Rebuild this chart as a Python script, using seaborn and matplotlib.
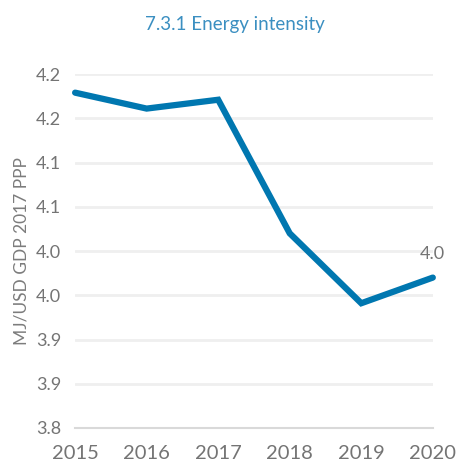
import matplotlib
matplotlib.use("Agg")
import matplotlib.pyplot as plt
import seaborn as sns
import pandas as pd

years = [2015, 2016, 2017, 2018, 2019, 2020]
values = [4.179, 4.161, 4.171, 4.020, 3.941, 3.970]
y_ticks = [3.80, 3.85, 3.90, 3.95, 4.00, 4.05, 4.10, 4.15, 4.20]
y_tick_labels = ["3.8", "3.9", "3.9", "4.0", "4.0", "4.1", "4.1", "4.2", "4.2"]
title = "7.3.1 Energy intensity"
y_label = "MJ/USD GDP 2017 PPP"
end_label = "4.0"

sns.set_style("white")
plt.rcParams['font.family'] = ['Lato', 'DejaVu Sans']

df = pd.DataFrame({"year": years, "value": values})

fig = plt.figure(figsize=(4.58, 4.63), dpi=100)
ax = fig.add_axes([0.164, 0.0756, 0.781, 0.7644])

ax.set_ylim(3.8, 4.2)
ax.set_xlim(2015, 2020)
ax.set_yticks(y_ticks)
ax.set_yticklabels(y_tick_labels)
ax.set_xticks(years)
ax.set_xticklabels([str(y) for y in years])
ax.grid(axis="y", color="#efefef", linewidth=2)
ax.set_axisbelow(True)

sns.lineplot(data=df, x="year", y="value", ax=ax, color="#0077b0",
             linewidth=4.5, clip_on=False, solid_joinstyle="miter")

for s in ["top", "right", "left"]:
    ax.spines[s].set_visible(False)
ax.spines["bottom"].set_color("#d9d9d9")
ax.spines["bottom"].set_linewidth(1.5)

ax.tick_params(axis="y", length=0, labelsize=13, labelcolor="#747474", pad=10)
ax.tick_params(axis="x", length=7, width=1.2, color="#d9d9d9", labelsize=14.5,
               labelcolor="#747474", pad=5)

ax.set_xlabel("")
ax.set_ylabel(y_label, fontsize=12.5, color="#7c7c7c", labelpad=5)

ax.annotate(end_label, xy=(years[-1], values[-1]), xytext=(0, 11),
            textcoords="offset points", ha="center", va="bottom",
            fontsize=13, color="#747474")

fig.text(0.513, 0.948, title, ha="center", va="center", fontsize=13.5,
         color="#3b8fc1")

fig.savefig("out.png", dpi=100)
